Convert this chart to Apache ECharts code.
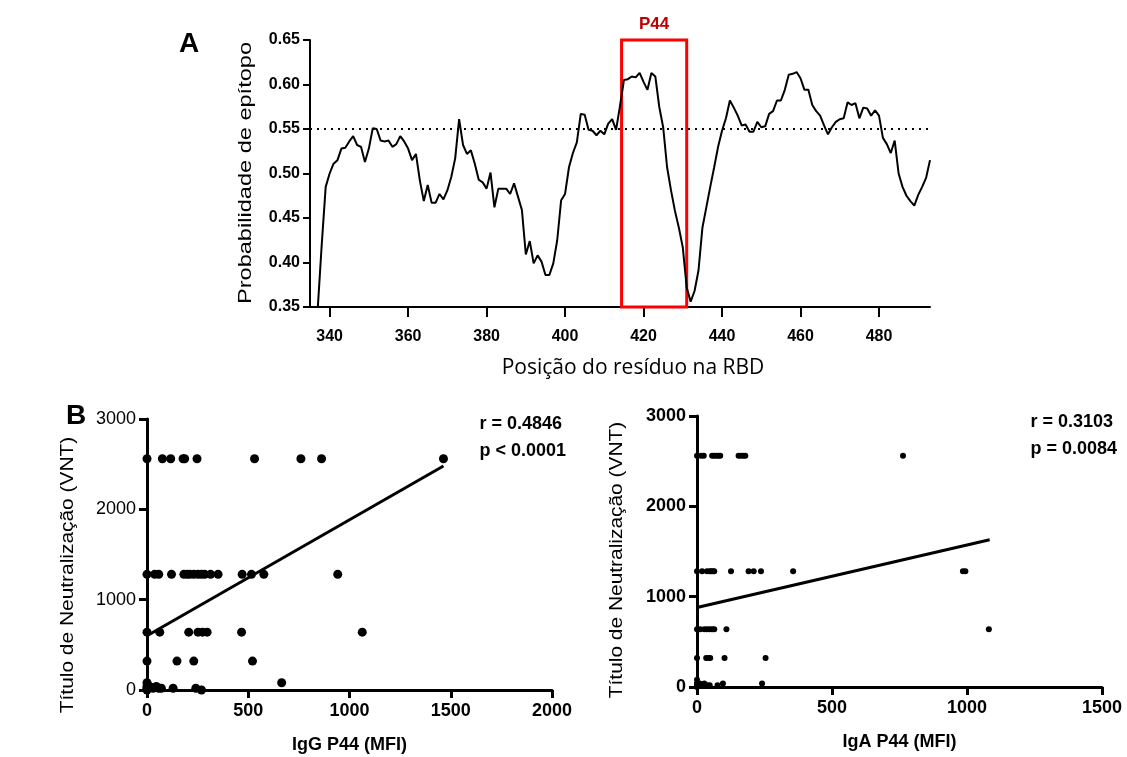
<!DOCTYPE html>
<html>
<head>
<meta charset="utf-8">
<title>P44</title>
<script src="https://cdn.jsdelivr.net/npm/echarts@6.0.0/dist/echarts.min.js"></script>
<style>
  html, body { margin: 0; padding: 0; background: #fff; }
  #chart { width: 1127px; height: 757px; }
</style>
</head>
<body>
<div id="chart"></div>
<script>
// --- painel A: probabilidade de epítopo ao longo da RBD ---
const firstResidue = 337;
const epitopeProb = [
  0.350, 0.421, 0.485, 0.500, 0.511, 0.515, 0.528, 0.529, 0.536, 0.542, // 337-346
  0.532, 0.530, 0.513, 0.528, 0.551, 0.550, 0.537, 0.536, 0.537, 0.530, // 347-356
  0.533, 0.542, 0.536, 0.528, 0.515, 0.522, 0.492, 0.469, 0.487, 0.467, // 357-366
  0.467, 0.477, 0.471, 0.481, 0.496, 0.517, 0.561, 0.532, 0.522, 0.526, // 367-376
  0.511, 0.493, 0.490, 0.483, 0.501, 0.462, 0.483, 0.483, 0.483, 0.477, // 377-386
  0.489, 0.474, 0.459, 0.409, 0.424, 0.399, 0.408, 0.401, 0.386, 0.386, // 387-396
  0.399, 0.425, 0.470, 0.477, 0.507, 0.523, 0.535, 0.567, 0.566, 0.549, // 397-406
  0.548, 0.543, 0.548, 0.544, 0.556, 0.561, 0.549, 0.576, 0.605, 0.606, // 407-416
  0.609, 0.608, 0.613, 0.603, 0.594, 0.613, 0.609, 0.575, 0.552, 0.507, // 417-426
  0.481, 0.458, 0.439, 0.417, 0.372, 0.356, 0.368, 0.391, 0.439, 0.462, // 427-436
  0.485, 0.507, 0.530, 0.548, 0.562, 0.582, 0.574, 0.565, 0.554, 0.555, // 437-446
  0.547, 0.547, 0.558, 0.552, 0.553, 0.567, 0.570, 0.582, 0.582, 0.594, // 447-456
  0.611, 0.612, 0.614, 0.607, 0.594, 0.594, 0.577, 0.570, 0.565, 0.554, // 457-466
  0.544, 0.552, 0.558, 0.561, 0.562, 0.580, 0.577, 0.579, 0.562, 0.574, // 467-476
  0.573, 0.565, 0.571, 0.565, 0.540, 0.533, 0.523, 0.537, 0.500, 0.485, // 477-486
  0.475, 0.469, 0.464, 0.476, 0.485, 0.495, 0.515                        // 487-493
];
const residueTicks = [340, 360, 380, 400, 420, 440, 460, 480];
const threshold = 0.55;
const p44Range = [414.4, 431];

// --- painel B: VNT x MFI ---
const iggPoints = [
  [0, 2560], [76, 2560], [117, 2560], [178, 2560], [186, 2560], [247, 2560], [531, 2560], [760, 2560], [862, 2560], [1464, 2560],
  [0, 1280], [38, 1280], [58, 1280], [121, 1280], [182, 1280], [198, 1280], [211, 1280], [231, 1280], [252, 1280], [269, 1280],
  [285, 1280], [314, 1280], [351, 1280], [470, 1280], [516, 1280], [577, 1280], [942, 1280],
  [0, 640], [63, 640], [206, 640], [252, 640], [274, 640], [297, 640], [467, 640], [1063, 640],
  [0, 320], [148, 320], [231, 320], [521, 320],
  [0, 0], [0, 20], [0, 40], [0, 80], [13, 40], [30, 20], [46, 40], [58, 20], [71, 20], [129, 20], [241, 20], [269, 0], [665, 80]
];
const iggFit = [[0, 600], [1464, 2480]];

const igaPoints = [
  [0, 2560], [15, 2560], [25, 2560], [56, 2560], [64, 2560], [72, 2560], [80, 2560], [86, 2560], [154, 2560], [163, 2560], [171, 2560], [179, 2560], [763, 2560],
  [0, 1280], [19, 1280], [37, 1280], [47, 1280], [53, 1280], [59, 1280], [64, 1280], [126, 1280], [191, 1280], [210, 1280], [237, 1280], [356, 1280], [985, 1280], [994, 1280],
  [0, 640], [12, 640], [27, 640], [37, 640], [47, 640], [56, 640], [64, 640], [109, 640], [1081, 640],
  [0, 320], [34, 320], [43, 320], [49, 320], [102, 320], [254, 320],
  [0, 0], [0, 20], [0, 40], [0, 80], [10, 40], [19, 20], [27, 40], [37, 20], [47, 20], [76, 20], [96, 40], [241, 40]
];
const igaFit = [[0, 880], [1084, 1630]];

const vntTicks = { min: 0, max: 3000, interval: 1000 };

const arial = "'Liberation Sans',Arial,sans-serif";

const chart = echarts.init(document.getElementById('chart'));

function scatterXAxis(grid, max, name) {
  return {
    gridIndex: grid, type: 'value', min: 0, max: max, interval: 500,
    axisLine: { show: true, onZero: false, lineStyle: { color: '#000', width: 3 } },
    axisTick: { show: true, length: 8, lineStyle: { color: '#000', width: 3 } },
    axisLabel: { color: '#000', fontFamily: arial, fontSize: 18, fontWeight: 'bold', margin: 12,
                 formatter: v => String(v) },
    splitLine: { show: false },
    name: name, nameLocation: 'middle', nameGap: 46,
    nameTextStyle: { color: '#000', fontFamily: arial, fontSize: 18, fontWeight: 'bold' }
  };
}
function scatterYAxis(grid, bold) {
  return {
    gridIndex: grid, type: 'value', min: vntTicks.min, max: vntTicks.max, interval: vntTicks.interval,
    axisLine: { show: true, onZero: false, lineStyle: { color: '#000', width: 3 } },
    axisTick: { show: true, length: 8, lineStyle: { color: '#000', width: 3 } },
    axisLabel: { color: '#000', fontFamily: arial, fontSize: 18, fontWeight: bold ? 'bold' : 'normal', margin: 11,
                 formatter: v => String(v) },
    splitLine: { show: false }
  };
}

// titulos verticais (a figura original esta esticada na vertical)
function vTitle(text, x, y, size, stretch) {
  return {
    type: 'text', x: x, y: y, rotation: Math.PI / 2, scaleX: stretch,
    style: { text: text, font: size + 'px ' + arial, fill: '#000', align: 'center', verticalAlign: 'middle' }
  };
}

const option = {
  animation: false,
  backgroundColor: '#fff',
  grid: [
    { left: 310, top: 40, width: 620, height: 267 },
    { left: 147, top: 419, width: 405, height: 271 },
    { left: 697, top: 416, width: 405, height: 271 }
  ],
  xAxis: [
    {
      gridIndex: 0, type: 'value', min: 335, max: 493,
      axisLine: { show: true, onZero: false, lineStyle: { color: '#000', width: 2 } },
      axisTick: { show: true, length: 10, customValues: residueTicks, lineStyle: { color: '#000', width: 2 } },
      axisLabel: { customValues: residueTicks, color: '#000', fontFamily: arial, fontWeight: 'bold', fontSize: 16, margin: 22 },
      splitLine: { show: false }
    },
    scatterXAxis(1, 2000, 'IgG P44 (MFI)'),
    scatterXAxis(2, 1500, 'IgA P44 (MFI)')
  ],
  yAxis: [
    {
      gridIndex: 0, type: 'value', min: 0.35, max: 0.65, interval: 0.05,
      axisLine: { show: true, onZero: false, lineStyle: { color: '#000', width: 2 } },
      axisTick: { show: true, length: 7, lineStyle: { color: '#000', width: 2 } },
      axisLabel: { color: '#000', fontFamily: arial, fontWeight: 'bold', fontSize: 16, margin: 10,
                   formatter: v => v.toFixed(2) },
      splitLine: { show: false }
    },
    scatterYAxis(1, false),
    scatterYAxis(2, true)
  ],
  graphic: [
    { type: 'text', left: 179, top: 30, style: { text: 'A', font: 'bold 28px ' + arial, fill: '#000' } },
    { type: 'text', left: 66, top: 402, style: { text: 'B', font: 'bold 28px ' + arial, fill: '#000' } },
    { type: 'text', x: 633, y: 368,
      style: { text: 'Posição do resíduo na RBD', font: "21px 'Open Sans',sans-serif", fill: '#000', align: 'center', verticalAlign: 'middle' } },
    vTitle('Probabilidade de epítopo', 246, 173, 19, 1.24),
    vTitle('Título de Neutralização (VNT)', 68, 575, 19, 1.1),
    vTitle('Título de Neutralização (VNT)', 617, 560, 19, 1.1),
    { type: 'text', right: 1127 - 566, top: 411, style: { text: 'r = 0.4846\np < 0.0001', font: 'bold 18px ' + arial, fill: '#000', align: 'right', lineHeight: 27 } },
    { type: 'text', right: 1127 - 1117, top: 409, style: { text: 'r = 0.3103\np = 0.0084', font: 'bold 18px ' + arial, fill: '#000', align: 'right', lineHeight: 27 } }
  ],
  series: [
    {
      type: 'line', xAxisIndex: 0, yAxisIndex: 0,
      data: epitopeProb.map((p, i) => [firstResidue + i, p]),
      showSymbol: false, symbol: 'none',
      lineStyle: { color: '#000', width: 2 },
      markLine: {
        silent: true, symbol: 'none', label: { show: false },
        lineStyle: { color: '#000', width: 2, type: [2, 5] },
        data: [{ yAxis: threshold }]
      },
      markArea: {
        silent: true,
        itemStyle: { color: 'rgba(0,0,0,0)', borderColor: '#ff0000', borderWidth: 3 },
        label: { show: true, position: 'top', distance: 6, formatter: 'P44', color: '#c00000',
                 fontFamily: arial, fontWeight: 'bold', fontSize: 17 },
        data: [[{ xAxis: p44Range[0], yAxis: 0.35 }, { xAxis: p44Range[1], yAxis: 0.65 }]]
      }
    },
    {
      type: 'scatter', xAxisIndex: 1, yAxisIndex: 1, data: iggPoints,
      symbolSize: 9, itemStyle: { color: '#000', opacity: 1 }
    },
    {
      type: 'line', xAxisIndex: 1, yAxisIndex: 1, data: iggFit,
      symbol: 'none', lineStyle: { color: '#000', width: 3 }
    },
    {
      type: 'scatter', xAxisIndex: 2, yAxisIndex: 2, data: igaPoints,
      symbolSize: 6, itemStyle: { color: '#000', opacity: 1 }
    },
    {
      type: 'line', xAxisIndex: 2, yAxisIndex: 2, data: igaFit,
      symbol: 'none', lineStyle: { color: '#000', width: 3 }
    }
  ]
};

chart.setOption(option);
</script>
</body>
</html>
